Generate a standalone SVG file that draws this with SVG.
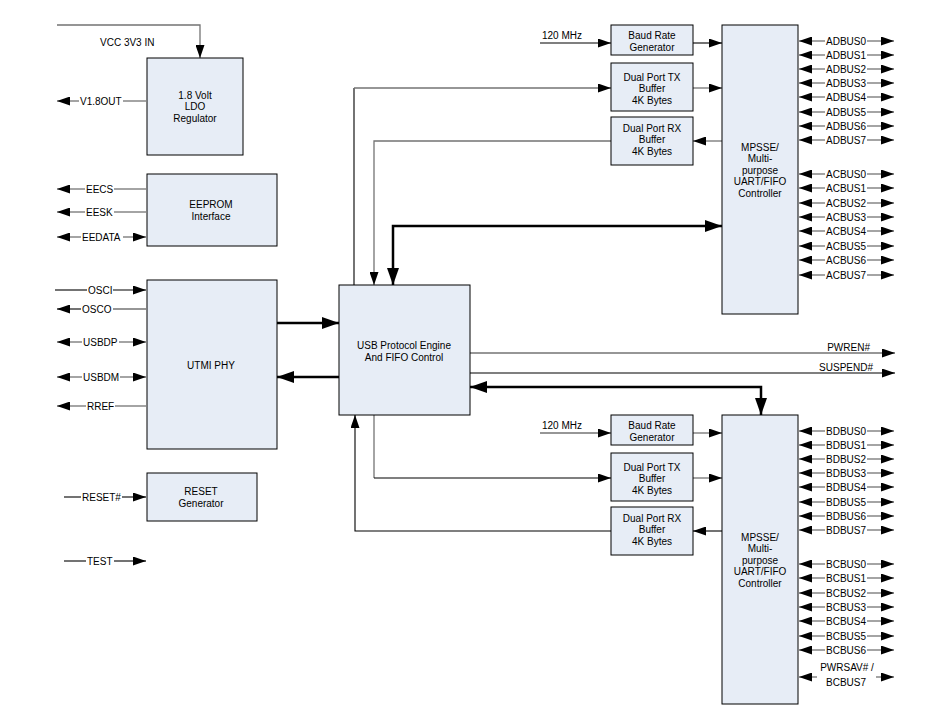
<svg xmlns="http://www.w3.org/2000/svg" width="930" height="718" viewBox="0 0 930 718">
<style>
.box{fill:#e7edf6;stroke:#000;stroke-width:1}
.t{font-family:"Liberation Sans",Arial,sans-serif;font-size:10px;fill:#000}
.m{text-anchor:middle}
.e{text-anchor:end}
.g{stroke:#737373;stroke-width:1.3;fill:none}
.k{stroke:#000;stroke-width:1.1;fill:none}
.th{stroke:#000;stroke-width:2.5;fill:none}
</style>
<defs>
<marker id="a" markerUnits="userSpaceOnUse" markerWidth="14" markerHeight="9" refX="13" refY="4.5" orient="auto-start-reverse"><path d="M0,0 L13,4.5 L0,9 Z" fill="#000"/></marker>
<marker id="A" markerUnits="userSpaceOnUse" markerWidth="18" markerHeight="12" refX="17" refY="6" orient="auto-start-reverse"><path d="M0,0 L17,6 L0,12 Z" fill="#000"/></marker>
</defs>
<rect width="930" height="718" fill="#fff"/>

<g id="connectors">
<path class="g" d="M57,25 H200 V58" marker-end="url(#a)"/>
<text class="t" x="100" y="46">VCC 3V3 IN</text>
<line class="g" x1="79" y1="101" x2="57" y2="101" marker-end="url(#a)"/>
<line class="g" x1="123" y1="101" x2="146" y2="101"/>
<text class="t" x="80" y="104.5">V1.8OUT</text>

<line class="g" x1="85" y1="189" x2="57" y2="189" marker-end="url(#a)"/>
<line class="g" x1="114" y1="189" x2="146" y2="189"/>
<text class="t" x="86" y="192.5">EECS</text>

<line class="g" x1="85" y1="212" x2="57" y2="212" marker-end="url(#a)"/>
<line class="g" x1="114" y1="212" x2="146" y2="212"/>
<text class="t" x="86" y="215.5">EESK</text>

<line class="g" x1="81" y1="237" x2="57" y2="237" marker-end="url(#a)"/>
<line class="g" x1="123" y1="237" x2="146" y2="237" marker-end="url(#a)"/>
<text class="t" x="82" y="240.5">EEDATA</text>

<line class="k" x1="55" y1="290" x2="87" y2="290"/>
<line class="k" x1="113" y1="290" x2="146" y2="290" marker-end="url(#a)"/>
<text class="t" x="88" y="293.5">OSCI</text>

<line class="k" x1="81" y1="309" x2="57" y2="309" marker-end="url(#a)"/>
<line class="g" x1="113" y1="309" x2="146" y2="309"/>
<text class="t" x="82" y="312.5">OSCO</text>

<line class="g" x1="82" y1="342" x2="57" y2="342" marker-end="url(#a)"/>
<line class="g" x1="119" y1="342" x2="146" y2="342" marker-end="url(#a)"/>
<text class="t" x="83" y="345.5">USBDP</text>

<line class="g" x1="82" y1="377" x2="57" y2="377" marker-end="url(#a)"/>
<line class="g" x1="120" y1="377" x2="146" y2="377" marker-end="url(#a)"/>
<text class="t" x="83" y="380.5">USBDM</text>

<line class="g" x1="86" y1="406" x2="57" y2="406" marker-end="url(#a)"/>
<line class="g" x1="115" y1="406" x2="146" y2="406"/>
<text class="t" x="87" y="409.5">RREF</text>

<line class="k" x1="64" y1="497" x2="81" y2="497"/>
<line class="k" x1="122" y1="497" x2="146" y2="497" marker-end="url(#a)"/>
<text class="t" x="82" y="500.5">RESET#</text>

<line class="k" x1="64" y1="561" x2="86" y2="561"/>
<line class="k" x1="114" y1="561" x2="146" y2="561" marker-end="url(#a)"/>
<text class="t" x="87" y="564.5">TEST</text>

<line class="th" x1="277" y1="323" x2="339" y2="323" marker-end="url(#A)"/>
<line class="th" x1="339" y1="377" x2="277" y2="377" marker-end="url(#A)"/>

<line class="k" x1="354" y1="285" x2="354" y2="88"/>
<line class="g" x1="354" y1="88" x2="611" y2="88" marker-end="url(#a)"/>
<path class="g" d="M611,141 H374 V285" marker-end="url(#a)"/>
<path class="th" d="M393,285 V226 H722" marker-start="url(#A)" marker-end="url(#A)"/>

<line class="g" x1="374" y1="415" x2="374" y2="478"/>
<line class="k" x1="374" y1="478" x2="611" y2="478" marker-end="url(#a)"/>
<path class="k" d="M611,531 H355 V415" marker-end="url(#a)"/>
<path class="th" d="M470,387 H761 V415" marker-start="url(#A)" marker-end="url(#A)"/>

<line class="g" x1="470" y1="353" x2="895" y2="353" marker-end="url(#a)"/>
<text class="t e" x="870" y="351">PWREN#</text>
<line class="k" x1="470" y1="373" x2="895" y2="373" marker-end="url(#a)"/>
<text class="t e" x="873" y="371">SUSPEND#</text>

<line class="k" x1="540" y1="43" x2="611" y2="43" marker-end="url(#a)"/>
<text class="t" x="542" y="39">120 MHz</text>
<line class="k" x1="693" y1="43" x2="722" y2="43" marker-end="url(#a)"/>
<line class="g" x1="693" y1="88" x2="722" y2="88" marker-end="url(#a)"/>
<line class="g" x1="722" y1="141" x2="693" y2="141" marker-end="url(#a)"/>

<line class="g" x1="540" y1="433" x2="611" y2="433" marker-end="url(#a)"/>
<text class="t" x="542" y="429">120 MHz</text>
<line class="g" x1="693" y1="433" x2="722" y2="433" marker-end="url(#a)"/>
<line class="g" x1="693" y1="478" x2="722" y2="478" marker-end="url(#a)"/>
<line class="k" x1="722" y1="531" x2="693" y2="531" marker-end="url(#a)"/>

<g id="adbus">
<line class="g" x1="825" y1="41" x2="799" y2="41" marker-end="url(#a)"/><line class="g" x1="867" y1="41" x2="894" y2="41" marker-end="url(#a)"/><text class="t" x="826" y="44.5">ADBUS0</text>
<line class="g" x1="825" y1="55" x2="799" y2="55" marker-end="url(#a)"/><line class="g" x1="867" y1="55" x2="894" y2="55" marker-end="url(#a)"/><text class="t" x="826" y="58.5">ADBUS1</text>
<line class="g" x1="825" y1="69" x2="799" y2="69" marker-end="url(#a)"/><line class="g" x1="867" y1="69" x2="894" y2="69" marker-end="url(#a)"/><text class="t" x="826" y="72.5">ADBUS2</text>
<line class="g" x1="825" y1="83" x2="799" y2="83" marker-end="url(#a)"/><line class="g" x1="867" y1="83" x2="894" y2="83" marker-end="url(#a)"/><text class="t" x="826" y="86.5">ADBUS3</text>
<line class="g" x1="825" y1="97" x2="799" y2="97" marker-end="url(#a)"/><line class="g" x1="867" y1="97" x2="894" y2="97" marker-end="url(#a)"/><text class="t" x="826" y="100.5">ADBUS4</text>
<line class="g" x1="825" y1="112" x2="799" y2="112" marker-end="url(#a)"/><line class="g" x1="867" y1="112" x2="894" y2="112" marker-end="url(#a)"/><text class="t" x="826" y="115.5">ADBUS5</text>
<line class="g" x1="825" y1="126" x2="799" y2="126" marker-end="url(#a)"/><line class="g" x1="867" y1="126" x2="894" y2="126" marker-end="url(#a)"/><text class="t" x="826" y="129.5">ADBUS6</text>
<line class="g" x1="825" y1="140" x2="799" y2="140" marker-end="url(#a)"/><line class="g" x1="867" y1="140" x2="894" y2="140" marker-end="url(#a)"/><text class="t" x="826" y="143.5">ADBUS7</text>
</g>
<g id="acbus">
<line class="g" x1="825" y1="174" x2="799" y2="174" marker-end="url(#a)"/><line class="g" x1="867" y1="174" x2="894" y2="174" marker-end="url(#a)"/><text class="t" x="826" y="177.5">ACBUS0</text>
<line class="g" x1="825" y1="188" x2="799" y2="188" marker-end="url(#a)"/><line class="g" x1="867" y1="188" x2="894" y2="188" marker-end="url(#a)"/><text class="t" x="826" y="191.5">ACBUS1</text>
<line class="g" x1="825" y1="203" x2="799" y2="203" marker-end="url(#a)"/><line class="g" x1="867" y1="203" x2="894" y2="203" marker-end="url(#a)"/><text class="t" x="826" y="206.5">ACBUS2</text>
<line class="g" x1="825" y1="217" x2="799" y2="217" marker-end="url(#a)"/><line class="g" x1="867" y1="217" x2="894" y2="217" marker-end="url(#a)"/><text class="t" x="826" y="220.5">ACBUS3</text>
<line class="g" x1="825" y1="231" x2="799" y2="231" marker-end="url(#a)"/><line class="g" x1="867" y1="231" x2="894" y2="231" marker-end="url(#a)"/><text class="t" x="826" y="234.5">ACBUS4</text>
<line class="g" x1="825" y1="246" x2="799" y2="246" marker-end="url(#a)"/><line class="g" x1="867" y1="246" x2="894" y2="246" marker-end="url(#a)"/><text class="t" x="826" y="249.5">ACBUS5</text>
<line class="g" x1="825" y1="260" x2="799" y2="260" marker-end="url(#a)"/><line class="g" x1="867" y1="260" x2="894" y2="260" marker-end="url(#a)"/><text class="t" x="826" y="263.5">ACBUS6</text>
<line class="g" x1="825" y1="275" x2="799" y2="275" marker-end="url(#a)"/><line class="g" x1="867" y1="275" x2="894" y2="275" marker-end="url(#a)"/><text class="t" x="826" y="278.5">ACBUS7</text>
</g>
<g id="bdbus">
<line class="g" x1="825" y1="431" x2="799" y2="431" marker-end="url(#a)"/><line class="g" x1="867" y1="431" x2="894" y2="431" marker-end="url(#a)"/><text class="t" x="826" y="434.5">BDBUS0</text>
<line class="g" x1="825" y1="445" x2="799" y2="445" marker-end="url(#a)"/><line class="g" x1="867" y1="445" x2="894" y2="445" marker-end="url(#a)"/><text class="t" x="826" y="448.5">BDBUS1</text>
<line class="g" x1="825" y1="459" x2="799" y2="459" marker-end="url(#a)"/><line class="g" x1="867" y1="459" x2="894" y2="459" marker-end="url(#a)"/><text class="t" x="826" y="462.5">BDBUS2</text>
<line class="g" x1="825" y1="473" x2="799" y2="473" marker-end="url(#a)"/><line class="g" x1="867" y1="473" x2="894" y2="473" marker-end="url(#a)"/><text class="t" x="826" y="476.5">BDBUS3</text>
<line class="g" x1="825" y1="487" x2="799" y2="487" marker-end="url(#a)"/><line class="g" x1="867" y1="487" x2="894" y2="487" marker-end="url(#a)"/><text class="t" x="826" y="490.5">BDBUS4</text>
<line class="g" x1="825" y1="502" x2="799" y2="502" marker-end="url(#a)"/><line class="g" x1="867" y1="502" x2="894" y2="502" marker-end="url(#a)"/><text class="t" x="826" y="505.5">BDBUS5</text>
<line class="g" x1="825" y1="516" x2="799" y2="516" marker-end="url(#a)"/><line class="g" x1="867" y1="516" x2="894" y2="516" marker-end="url(#a)"/><text class="t" x="826" y="519.5">BDBUS6</text>
<line class="g" x1="825" y1="530" x2="799" y2="530" marker-end="url(#a)"/><line class="g" x1="867" y1="530" x2="894" y2="530" marker-end="url(#a)"/><text class="t" x="826" y="533.5">BDBUS7</text>
</g>
<g id="bcbus">
<line class="g" x1="825" y1="564" x2="799" y2="564" marker-end="url(#a)"/><line class="g" x1="867" y1="564" x2="894" y2="564" marker-end="url(#a)"/><text class="t" x="826" y="567.5">BCBUS0</text>
<line class="g" x1="825" y1="578" x2="799" y2="578" marker-end="url(#a)"/><line class="g" x1="867" y1="578" x2="894" y2="578" marker-end="url(#a)"/><text class="t" x="826" y="581.5">BCBUS1</text>
<line class="g" x1="825" y1="593" x2="799" y2="593" marker-end="url(#a)"/><line class="g" x1="867" y1="593" x2="894" y2="593" marker-end="url(#a)"/><text class="t" x="826" y="596.5">BCBUS2</text>
<line class="g" x1="825" y1="607" x2="799" y2="607" marker-end="url(#a)"/><line class="g" x1="867" y1="607" x2="894" y2="607" marker-end="url(#a)"/><text class="t" x="826" y="610.5">BCBUS3</text>
<line class="g" x1="825" y1="621" x2="799" y2="621" marker-end="url(#a)"/><line class="g" x1="867" y1="621" x2="894" y2="621" marker-end="url(#a)"/><text class="t" x="826" y="624.5">BCBUS4</text>
<line class="g" x1="825" y1="636" x2="799" y2="636" marker-end="url(#a)"/><line class="g" x1="867" y1="636" x2="894" y2="636" marker-end="url(#a)"/><text class="t" x="826" y="639.5">BCBUS5</text>
<line class="g" x1="825" y1="650" x2="799" y2="650" marker-end="url(#a)"/><line class="g" x1="867" y1="650" x2="894" y2="650" marker-end="url(#a)"/><text class="t" x="826" y="653.5">BCBUS6</text>
<line class="g" x1="817" y1="677" x2="799" y2="677" marker-end="url(#a)"/><line class="g" x1="876" y1="677" x2="894" y2="677" marker-end="url(#a)"/>
<text class="t m" x="847" y="671">PWRSAV# /</text><text class="t m" x="846" y="686">BCBUS7</text>
</g>
</g>

<g id="ldo"><rect class="box" x="147" y="58" width="96" height="97"/>
<text class="t m" x="195" y="98.5">1.8 Volt</text><text class="t m" x="195" y="110">LDO</text><text class="t m" x="195" y="121.5">Regulator</text></g>
<g id="eeprom"><rect class="box" x="147" y="174" width="130" height="72"/>
<text class="t m" x="211" y="207.5">EEPROM</text><text class="t m" x="211" y="220">Interface</text></g>
<g id="utmi"><rect class="box" x="147" y="280" width="130" height="169"/>
<text class="t m" x="211" y="368.5">UTMI PHY</text></g>
<g id="reset"><rect class="box" x="147" y="473" width="110" height="48"/>
<text class="t m" x="201" y="494.5">RESET</text><text class="t m" x="201" y="506.5">Generator</text></g>
<g id="engine"><rect class="box" x="339" y="285" width="131" height="130"/>
<text class="t m" x="404" y="348.5">USB Protocol Engine</text><text class="t m" x="404" y="360.5">And FIFO Control</text></g>

<g id="baudA"><rect class="box" x="611" y="25" width="82" height="30"/>
<text class="t m" x="652" y="39">Baud Rate</text><text class="t m" x="652" y="51">Generator</text></g>
<g id="txA"><rect class="box" x="611" y="63" width="82" height="48"/>
<text class="t m" x="652" y="80.5">Dual Port TX</text><text class="t m" x="652" y="91.5">Buffer</text><text class="t m" x="652" y="103.5">4K Bytes</text></g>
<g id="rxA"><rect class="box" x="611" y="117" width="82" height="48"/>
<text class="t m" x="652" y="131.5">Dual Port RX</text><text class="t m" x="652" y="143">Buffer</text><text class="t m" x="652" y="155">4K Bytes</text></g>
<g id="mpsseA"><rect class="box" x="722" y="25" width="76" height="289"/>
<text class="t m" x="760" y="150.5">MPSSE/</text><text class="t m" x="760" y="162">Multi-</text><text class="t m" x="760" y="173.5">purpose</text><text class="t m" x="760" y="185">UART/FIFO</text><text class="t m" x="760" y="196.5">Controller</text></g>

<g id="baudB"><rect class="box" x="611" y="415" width="82" height="30"/>
<text class="t m" x="652" y="429">Baud Rate</text><text class="t m" x="652" y="441">Generator</text></g>
<g id="txB"><rect class="box" x="611" y="453" width="82" height="48"/>
<text class="t m" x="652" y="470.5">Dual Port TX</text><text class="t m" x="652" y="481.5">Buffer</text><text class="t m" x="652" y="493.5">4K Bytes</text></g>
<g id="rxB"><rect class="box" x="611" y="507" width="82" height="48"/>
<text class="t m" x="652" y="521.5">Dual Port RX</text><text class="t m" x="652" y="533">Buffer</text><text class="t m" x="652" y="545">4K Bytes</text></g>
<g id="mpsseB"><rect class="box" x="722" y="415" width="76" height="289"/>
<text class="t m" x="760" y="540.5">MPSSE/</text><text class="t m" x="760" y="552">Multi-</text><text class="t m" x="760" y="563.5">purpose</text><text class="t m" x="760" y="575">UART/FIFO</text><text class="t m" x="760" y="586.5">Controller</text></g>
</svg>
